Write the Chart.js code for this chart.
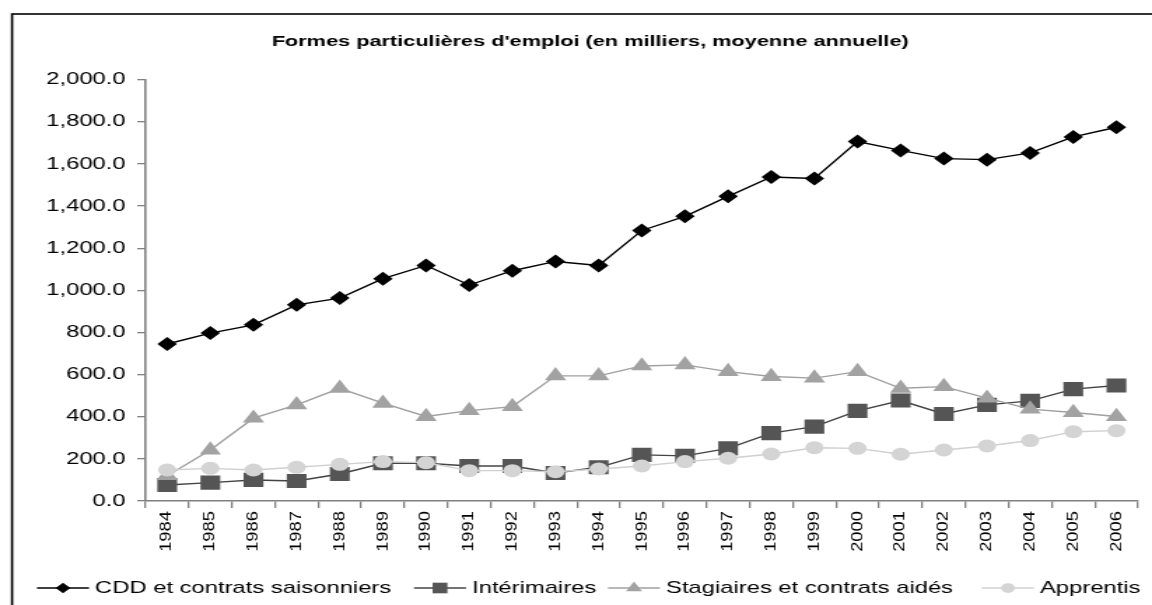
<!DOCTYPE html>
<html>
<head>
<meta charset="utf-8">
<title>Formes particulières d'emploi</title>
<script src="https://cdn.jsdelivr.net/npm/chart.js@4/dist/chart.umd.min.js"></script>
<style>
body{
    margin:0;
    background:#fff;
}
</style>
</head>
<body>

<!-- the original picture is stretched sideways, so the canvas is drawn narrow and widened by css -->
<canvas id="chart" width="823" height="605" style="display:block;width:1152px;height:605px"></canvas>

<script>

const years = [
    "1984","1985","1986","1987","1988","1989","1990","1991",
    "1992","1993","1994","1995","1996","1997","1998","1999",
    "2000","2001","2002","2003","2004","2005","2006"
];

const cdd = [
    745, 797, 836, 931, 963, 1055, 1118, 1025,
    1093, 1137, 1118, 1284, 1351, 1446, 1538, 1531,
    1706, 1664, 1625, 1620, 1652, 1728, 1774
];

const interimaires = [
    76, 87, 100, 95, 128, 179, 179, 166,
    166, 133, 160, 219, 214, 250, 322, 353,
    428, 477, 413, 456, 475, 531, 548
];

const stagiaires = [
    120, 242, 393, 456, 535, 464, 401, 429,
    448, 594, 594, 641, 646, 614, 591, 583,
    614, 535, 543, 488, 436, 420, 401
];

const apprentis = [
    147, 155, 147, 160, 174, 187, 182, 144,
    144, 139, 152, 166, 187, 203, 223, 253,
    250, 222, 242, 261, 287, 329, 334
];

const yTicks = [0, 200, 400, 600, 800, 1000, 1200, 1400, 1600, 1800, 2000];

const seriesNames = [
    "CDD et contrats saisonniers",
    "Intérimaires",
    "Stagiaires et contrats aidés",
    "Apprentis"
];

const FONT = "'Liberation Sans', Arial, sans-serif";
const AXIS = "#808080";

// canvas units are 1/1.4 of screen pixels across
const SX = 823 / 1152;

// where each legend name starts, in screen pixels
const legendTextX = [95, 472, 666, 1040];

function drawMarker(ctx, style, x, y, r){

    ctx.beginPath();

    if(style === "rectRot"){
        ctx.moveTo(x - r, y);
        ctx.lineTo(x, y - r);
        ctx.lineTo(x + r, y);
        ctx.lineTo(x, y + r);
    }
    else if(style === "rect"){
        const s = r * Math.SQRT1_2;
        ctx.rect(x - s, y - s, 2 * s, 2 * s);
    }
    else if(style === "triangle"){
        ctx.moveTo(x, y - r);
        ctx.lineTo(x + r * 0.866, y + r * 0.5);
        ctx.lineTo(x - r * 0.866, y + r * 0.5);
    }
    else{
        ctx.arc(x, y, r, 0, Math.PI * 2);
    }

    ctx.closePath();
    ctx.fill();
}

const extras = {

    id:"extras",

    beforeDraw(chart){

        const ctx = chart.ctx;

        ctx.save();
        ctx.fillStyle = "#fff";
        ctx.fillRect(0, 0, chart.width, chart.height);
        ctx.strokeStyle = "#000";
        ctx.lineWidth = 1.6;
        ctx.strokeRect(8.6, 14, chart.width + 20, chart.height + 20);
        ctx.restore();
    },

    afterDraw(chart){

        const ctx = chart.ctx;
        const xScale = chart.scales.x;

        // year labels, turned to read upwards and drawn a bit long
        ctx.save();
        ctx.fillStyle = "#000";
        ctx.font = `11px ${FONT}`;
        ctx.textAlign = "right";
        ctx.textBaseline = "middle";

        years.forEach((year, i)=>{

            const x = xScale.getPixelForValue(i);

            ctx.save();
            ctx.translate(x, xScale.top + 10);
            ctx.rotate(-Math.PI / 2);
            ctx.scale(1.67, 1);
            ctx.fillText(year, 0, 0);
            ctx.restore();
        });

        ctx.restore();

        // legend: short line with the marker on it, then the name
        ctx.save();
        ctx.font = `17px ${FONT}`;
        ctx.textBaseline = "middle";
        ctx.textAlign = "left";

        const y = 588;

        chart.data.datasets.forEach((ds, i)=>{

            const tx = legendTextX[i] * SX;
            const x0 = tx - 58 * SX;
            const x1 = tx - 6 * SX;

            ctx.strokeStyle = ds.borderColor;
            ctx.lineWidth = 1.5;
            ctx.beginPath();
            ctx.moveTo(x0, y);
            ctx.lineTo(x1, y);
            ctx.stroke();

            ctx.fillStyle = ds.pointBackgroundColor;
            drawMarker(ctx, ds.pointStyle, (x0 + x1) / 2, y, ds.pointRadius * 0.75);

            ctx.fillStyle = "#000";
            ctx.fillText(ds.label, tx, y);
        });

        ctx.restore();
    }
};

new Chart(

document.getElementById("chart"),

{
    type:"line",

    data:{
        labels:years,

        datasets:[

        {
            label:seriesNames[0],
            data:cdd,
            borderColor:"#000000",
            pointBackgroundColor:"#000000",
            pointStyle:"rectRot",
            pointRadius:7,
            order:3
        },

        {
            label:seriesNames[1],
            data:interimaires,
            borderColor:"#444444",
            pointBackgroundColor:"#555555",
            pointStyle:"rect",
            pointRadius:10,
            order:2
        },

        {
            label:seriesNames[2],
            data:stagiaires,
            borderColor:"#a0a0a0",
            pointBackgroundColor:"#a2a2a2",
            pointStyle:"triangle",
            pointRadius:8.8,
            order:1
        },

        {
            label:seriesNames[3],
            data:apprentis,
            borderColor:"#d0d0d0",
            pointBackgroundColor:"#d4d4d4",
            pointStyle:"circle",
            pointRadius:6.5,
            order:0
        }

        ]
    },

    options:{
        responsive:false,
        devicePixelRatio:1,
        animation:false,

        layout:{
            padding:{
                top:32,
                left:24.7,
                right:4.4,
                bottom:97
            }
        },

        elements:{
            line:{
                borderWidth:1.4,
                tension:0
            },
            point:{
                borderWidth:0,
                hoverRadius:8
            }
        },

        plugins:{
            legend:{
                display:false
            },
            tooltip:{
                enabled:false
            },
            title:{
                display:true,
                text:"Formes particulières d'emploi (en milliers, moyenne annuelle)",
                color:"#000",
                font:{
                    family:FONT,
                    size:15.5,
                    weight:"bold"
                },
                padding:{
                    top:0,
                    bottom:29
                }
            }
        },

        scales:{

            x:{
                offset:true,
                grid:{
                    offset:true,
                    drawOnChartArea:false,
                    tickLength:7,
                    color:AXIS,
                    lineWidth:1.3
                },
                border:{
                    color:AXIS,
                    width:1.6
                },
                ticks:{
                    display:false
                }
            },

            y:{
                min:yTicks[0],
                max:yTicks[yTicks.length - 1],
                afterBuildTicks(axis){
                    axis.ticks = yTicks.map(v=>({value:v}));
                },
                grid:{
                    drawOnChartArea:false,
                    tickLength:6,
                    color:AXIS,
                    lineWidth:1.3
                },
                border:{
                    color:AXIS,
                    width:1.6
                },
                ticks:{
                    color:"#000",
                    padding:8.3,
                    font:{
                        family:FONT,
                        size:17
                    },
                    callback:(v)=>
                    v.toLocaleString("en-US",{
                        minimumFractionDigits:1,
                        maximumFractionDigits:1
                    })
                }
            }
        }
    },

    plugins:[extras]
});

</script>
</body>
</html>
